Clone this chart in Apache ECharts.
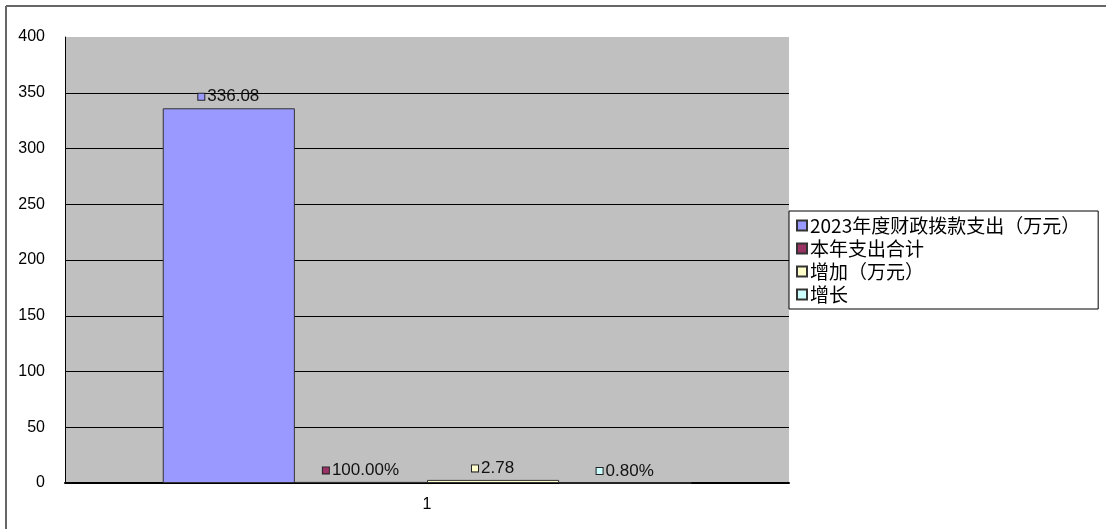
<!DOCTYPE html>
<html>
<head>
<meta charset="utf-8">
<script src="https://cdn.jsdelivr.net/npm/echarts@6/dist/echarts.min.js"></script>
<style>html,body{margin:0;padding:0;background:#fff;}#c{width:1106px;height:529px;}</style>
</head>
<body>
<div id="c"></div>
<script>
const categories = ['1'];
const seriesNames = ['2023年度财政拨款支出（万元）', '本年支出合计', '增加（万元）', '增长'];
const seriesValues = [336.08, 1.0, 2.78, 0.008];
const seriesLabels = ['336.08', '100.00%', '2.78', '0.80%'];
const seriesColors = ['#9999FF', '#993366', '#FFFFCC', '#CCFFFF'];
const yTicks = { min: 0, max: 400, interval: 50 };

const chart = echarts.init(document.getElementById('c'));
const series = seriesNames.map((name, i) => ({
  name: name,
  type: 'bar',
  data: [seriesValues[i]],
  barGap: '0%',
  barCategoryGap: '27%',
  itemStyle: { color: seriesColors[i], borderColor: '#333', borderWidth: 1 },
  label: {
    show: true,
    position: 'top',
    distance: 3,
    formatter: () => '{sq|}{v|' + seriesLabels[i] + '}',
    rich: {
      sq: { width: 6, height: 6, backgroundColor: seriesColors[i], borderColor: '#222', borderWidth: 1 },
      v: { fontSize: 17, fontFamily: 'Liberation Sans', color: '#111', padding: [0, 0, 0, 3] }
    }
  }
}));

chart.setOption({
  animation: false,
  backgroundColor: '#fff',
  graphic: [
    { type: 'line', shape: { x1: 6, y1: 6, x2: 1106, y2: 6 }, style: { stroke: '#666', lineWidth: 2 } },
    { type: 'line', shape: { x1: 6, y1: 6, x2: 6, y2: 529 }, style: { stroke: '#666', lineWidth: 2 } },
    { type: 'rect', z: -1, shape: { x: 65, y: 37, width: 724, height: 446 }, style: { fill: '#C0C0C0' } }
  ],
  grid: { left: 65, top: 37, right: 317, bottom: 46, containLabel: false },
  legend: {
    orient: 'vertical',
    left: 789,
    top: 211,
    padding: [5, 18, 5, 7],
    itemGap: 4,
    itemWidth: 10,
    itemHeight: 10,
    icon: 'rect',
    backgroundColor: '#fff',
    borderColor: '#000',
    borderWidth: 1,
    textStyle: { fontSize: 19, fontFamily: 'Noto Sans CJK SC', color: '#000', padding: [0, 0, 0, -2] },
    data: seriesNames
  },
  xAxis: {
    type: 'category',
    data: categories,
    axisTick: { show: false },
    axisLine: { lineStyle: { color: '#000', width: 2 } },
    axisLabel: { fontSize: 16, fontFamily: 'Liberation Sans', color: '#000', margin: 14 }
  },
  yAxis: {
    type: 'value',
    min: yTicks.min,
    max: yTicks.max,
    interval: yTicks.interval,
    axisLine: { show: true, lineStyle: { color: '#000', width: 1 } },
    axisTick: { show: false },
    axisLabel: { fontSize: 16, fontFamily: 'Liberation Sans', color: '#000', margin: 20 },
    splitLine: { show: true, showMaxLine: false, lineStyle: { color: '#000', width: 1 } }
  },
  series: series
});
</script>
</body>
</html>
